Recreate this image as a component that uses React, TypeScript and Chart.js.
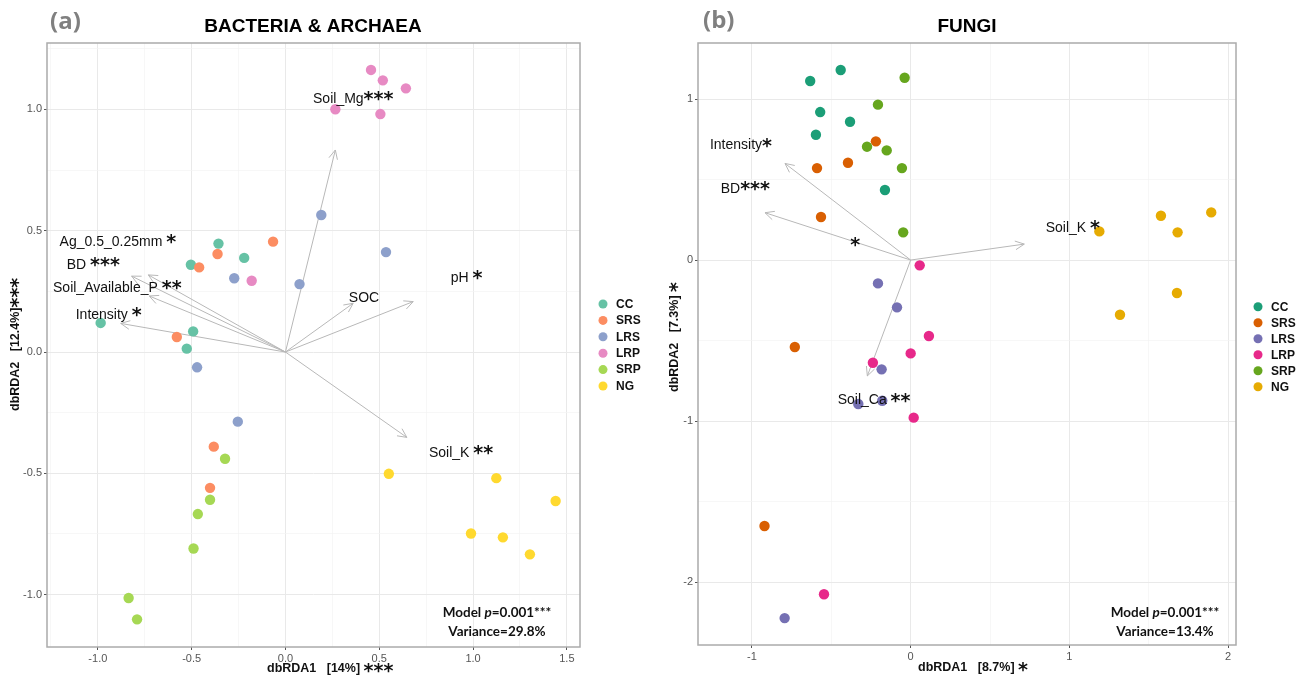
import React, { useEffect, useRef } from 'react';
import { Chart, registerables } from 'chart.js';
Chart.register(...registerables);

// ---------- shared ----------
const GROUPS = ['CC', 'SRS', 'LRS', 'LRP', 'SRP', 'NG'];
const BAC_COLORS = ['#66C2A5', '#FC8D62', '#8DA0CB', '#E78AC3', '#A6D854', '#FFD92F'];
const FUN_COLORS = ['#1B9E77', '#D95F02', '#7570B3', '#E7298A', '#66A61E', '#E6AB02'];

// ---------- (a) Bacteria & Archaea ----------
const BAC_CC_X = [-0.357, -0.220, -0.504, -0.985, -0.492, -0.526];
const BAC_CC_Y = [0.447, 0.388, 0.360, 0.120, 0.085, 0.014];
const BAC_SRS_X = [-0.066, -0.362, -0.460, -0.579, -0.382, -0.402];
const BAC_SRS_Y = [0.455, 0.404, 0.349, 0.062, -0.390, -0.560];
const BAC_LRS_X = [0.191, 0.536, -0.273, 0.075, -0.471, -0.254];
const BAC_LRS_Y = [0.565, 0.412, 0.304, 0.280, -0.063, -0.287];
const BAC_LRP_X = [0.456, 0.519, 0.642, 0.266, 0.506, -0.180];
const BAC_LRP_Y = [1.163, 1.120, 1.087, 1.001, 0.981, 0.294];
const BAC_SRP_X = [-0.322, -0.402, -0.467, -0.490, -0.836, -0.791];
const BAC_SRP_Y = [-0.440, -0.609, -0.668, -0.810, -1.014, -1.102];
const BAC_NG_X = [0.551, 1.124, 1.440, 0.989, 1.159, 1.303];
const BAC_NG_Y = [-0.502, -0.520, -0.614, -0.748, -0.764, -0.834];

const BAC_VEC_X = [0.266, -0.731, -0.820, -0.726, -0.878, 0.361, 0.681, 0.647];
const BAC_VEC_Y = [0.833, 0.318, 0.313, 0.231, 0.118, 0.201, 0.208, -0.352];
const BAC_LABELS = ['Soil_Mg', 'Ag_0.5_0.25mm ', 'BD ', 'Soil_Available_P ', 'Intensity ', 'SOC', 'pH ', 'Soil_K '];
const BAC_STARS = ['***', '*', '***', '**', '*', '', '*', '**'];
const BAC_LABEL_X = [0.147, -1.204, -1.166, -1.239, -1.118, 0.338, 0.881, 0.765];
const BAC_LABEL_Y = [1.043, 0.454, 0.359, 0.264, 0.153, 0.223, 0.306, -0.416];

const BAC_X_MAJOR = [-1.0, -0.5, 0.0, 0.5, 1.0, 1.5];
const BAC_X_MINOR = [-1.25, -0.75, -0.25, 0.25, 0.75, 1.25];
const BAC_Y_MAJOR = [-1.0, -0.5, 0.0, 0.5, 1.0];
const BAC_Y_MINOR = [-0.75, -0.25, 0.25, 0.75, 1.25];

// ---------- (b) Fungi ----------
const FUN_CC_X = [-0.633, -0.441, -0.570, -0.382, -0.597, -0.162];
const FUN_CC_Y = [1.112, 1.180, 0.919, 0.859, 0.778, 0.435];
const FUN_SRS_X = [-0.219, -0.590, -0.395, -0.565, -0.730, -0.921];
const FUN_SRS_Y = [0.737, 0.571, 0.604, 0.267, -0.540, -1.652];
const FUN_LRS_X = [-0.206, -0.086, -0.183, -0.330, -0.179, -0.794];
const FUN_LRS_Y = [-0.145, -0.294, -0.679, -0.894, -0.874, -2.224];
const FUN_LRP_X = [0.057, 0.115, 0.000, -0.238, 0.019, -0.546];
const FUN_LRP_Y = [-0.033, -0.472, -0.580, -0.638, -0.979, -2.076];
const FUN_SRP_X = [-0.038, -0.206, -0.275, -0.151, -0.055, -0.047];
const FUN_SRP_Y = [1.132, 0.965, 0.704, 0.681, 0.571, 0.172];
const FUN_NG_X = [1.189, 1.577, 1.894, 1.682, 1.678, 1.319];
const FUN_NG_Y = [0.178, 0.275, 0.296, 0.172, -0.205, -0.340];

const FUN_VEC_X = [-0.792, -0.918, 0.716, -0.273];
const FUN_VEC_Y = [0.600, 0.294, 0.099, -0.720];
const FUN_LABELS = ['Intensity', 'BD', '', 'Soil_K ', 'Soil_Ca '];
const FUN_STARS = ['*', '***', '*', '*', '**'];
const FUN_LABEL_X = [-1.265, -1.197, -0.380, 0.851, -0.460];
const FUN_LABEL_Y = [0.714, 0.441, 0.093, 0.199, -0.870];

const FUN_X_MAJOR = [-1, 0, 1, 2];
const FUN_X_MINOR = [-0.5, 0.5, 1.5];
const FUN_Y_MAJOR = [-2, -1, 0, 1];
const FUN_Y_MINOR = [-1.5, -0.5, 0.5];

const FONT = '"Liberation Sans", Arial, sans-serif';
const STAR_FONT = 'bold 19px "DejaVu Sans", sans-serif';

type Part = { t: string; f: string; dy?: number };

function drawParts(ctx: CanvasRenderingContext2D, x: number, y: number, parts: Part[], align: 'left' | 'center' = 'left') {
  let total = 0;
  for (const p of parts) { ctx.font = p.f; total += ctx.measureText(p.t).width; }
  let cx = align === 'center' ? x - total / 2 : x;
  ctx.textAlign = 'left';
  for (const p of parts) {
    ctx.font = p.f;
    ctx.fillText(p.t, cx, y + (p.dy || 0));
    cx += ctx.measureText(p.t).width;
  }
}

function isMajor(v: number, majors: number[]) {
  return majors.some((m) => Math.abs(m - v) < 1e-9);
}

const PANEL_A = {
  colors: BAC_COLORS,
  xs: [BAC_CC_X, BAC_SRS_X, BAC_LRS_X, BAC_LRP_X, BAC_SRP_X, BAC_NG_X],
  ys: [BAC_CC_Y, BAC_SRS_Y, BAC_LRS_Y, BAC_LRP_Y, BAC_SRP_Y, BAC_NG_Y],
  xMin: -1.271, xMax: 1.570, yMin: -1.216, yMax: 1.274,
  xMajor: BAC_X_MAJOR, xMinor: BAC_X_MINOR, yMajor: BAC_Y_MAJOR, yMinor: BAC_Y_MINOR,
  fmt: (v: number) => v.toFixed(1),
  width: 650, padRight: 70, xAxisH: 29, yAxisW: 47,
  vecX: BAC_VEC_X, vecY: BAC_VEC_Y,
  labText: BAC_LABELS, labStars: BAC_STARS, labX: BAC_LABEL_X, labY: BAC_LABEL_Y,
  title: 'BACTERIA & ARCHAEA', titleX: 313, tag: '(a)', tagX: 50, tagY: 22,
  legDotX: 603, legTextX: 616, legY0: 304, legStep: 16.4,
  modelX: 497, variance: 'Variance=29.8%',
  xTitle: 'dbRDA1   [14%] ', xTitleStars: '***', xTitleX: 267, xTitleY: 669,
  yTitle: 'dbRDA2   [12.4%]', yTitleStars: '***', yTitleX: 16, yTitleY: 411,
};

const PANEL_B = {
  colors: FUN_COLORS,
  xs: [FUN_CC_X, FUN_SRS_X, FUN_LRS_X, FUN_LRP_X, FUN_SRP_X, FUN_NG_X],
  ys: [FUN_CC_Y, FUN_SRS_Y, FUN_LRS_Y, FUN_LRP_Y, FUN_SRP_Y, FUN_NG_Y],
  xMin: -1.340, xMax: 2.050, yMin: -2.391, yMax: 1.348,
  xMajor: FUN_X_MAJOR, xMinor: FUN_X_MINOR, yMajor: FUN_Y_MAJOR, yMinor: FUN_Y_MINOR,
  fmt: (v: number) => String(v),
  width: 655, padRight: 69, xAxisH: 31, yAxisW: 48,
  vecX: FUN_VEC_X, vecY: FUN_VEC_Y,
  labText: FUN_LABELS, labStars: FUN_STARS, labX: FUN_LABEL_X, labY: FUN_LABEL_Y,
  title: 'FUNGI', titleX: 317, tag: '(b)', tagX: 53, tagY: 21,
  legDotX: 608, legTextX: 621, legY0: 306.7, legStep: 16,
  modelX: 515, variance: 'Variance=13.4%',
  xTitle: 'dbRDA1   [8.7%] ', xTitleStars: '*', xTitleX: 268, xTitleY: 668,
  yTitle: 'dbRDA2   [7.3%] ', yTitleStars: '*', yTitleX: 25, yTitleY: 392,
};

function makeOverlay(p: any) {
  return {
    id: 'overlay',
    beforeDatasetsDraw(chart: any) {
      const ctx = chart.ctx as CanvasRenderingContext2D;
      const xs = chart.scales.x, ys = chart.scales.y;
      const ox = xs.getPixelForValue(0), oy = ys.getPixelForValue(0);
      ctx.save();
      ctx.strokeStyle = '#b8b8b8';
      ctx.lineWidth = 1;
      for (let i = 0; i < p.vecX.length; i++) {
        const tx = xs.getPixelForValue(p.vecX[i]);
        const ty = ys.getPixelForValue(p.vecY[i]);
        ctx.beginPath();
        ctx.moveTo(ox, oy);
        ctx.lineTo(tx, ty);
        const ang = Math.atan2(ty - oy, tx - ox);
        const L = 10, a = Math.PI / 7;
        ctx.moveTo(tx - L * Math.cos(ang - a), ty - L * Math.sin(ang - a));
        ctx.lineTo(tx, ty);
        ctx.lineTo(tx - L * Math.cos(ang + a), ty - L * Math.sin(ang + a));
        ctx.stroke();
      }
      ctx.restore();
    },
    afterDatasetsDraw(chart: any) {
      const ctx = chart.ctx as CanvasRenderingContext2D;
      const ca = chart.chartArea;
      const xs = chart.scales.x, ys = chart.scales.y;
      ctx.save();
      ctx.strokeStyle = '#ababab';
      ctx.lineWidth = 1.5;
      ctx.strokeRect(ca.left, ca.top, ca.right - ca.left, ca.bottom - ca.top);
      ctx.fillStyle = '#111';
      ctx.textBaseline = 'middle';
      for (let i = 0; i < p.labText.length; i++) {
        const x = xs.getPixelForValue(p.labX[i]);
        const y = ys.getPixelForValue(p.labY[i]);
        const parts: Part[] = [{ t: p.labText[i], f: `14px ${FONT}` }];
        if (p.labStars[i]) parts.push({ t: p.labStars[i], f: STAR_FONT, dy: 1.5 });
        drawParts(ctx, x, y, parts);
      }
      ctx.restore();
    },
    afterDraw(chart: any) {
      const ctx = chart.ctx as CanvasRenderingContext2D;
      ctx.save();
      ctx.textBaseline = 'middle';
      ctx.fillStyle = '#000';
      ctx.font = `bold 19px ${FONT}`;
      ctx.textAlign = 'center';
      ctx.fillText(p.title, p.titleX, 27);
      ctx.fillStyle = '#808080';
      ctx.font = 'bold 24px "Open Sans", sans-serif';
      ctx.textAlign = 'left';
      ctx.fillText(p.tag, p.tagX, p.tagY);
      for (let i = 0; i < GROUPS.length; i++) {
        const y = p.legY0 + i * p.legStep;
        ctx.fillStyle = p.colors[i];
        ctx.beginPath();
        ctx.arc(p.legDotX, y, 4.5, 0, Math.PI * 2);
        ctx.fill();
        ctx.fillStyle = '#111';
        ctx.font = `bold 12px ${FONT}`;
        ctx.textAlign = 'left';
        ctx.fillText(GROUPS[i], p.legTextX, y + 0.5);
      }
      ctx.fillStyle = '#111';
      drawParts(ctx, p.modelX, 613, [
        { t: 'Model ', f: 'bold 13.5px Lato, sans-serif' },
        { t: 'p', f: 'italic bold 13.5px Lato, sans-serif' },
        { t: '=0.001***', f: 'bold 13.5px Lato, sans-serif' },
      ], 'center');
      drawParts(ctx, p.modelX, 632, [{ t: p.variance, f: 'bold 13.5px Lato, sans-serif' }], 'center');
      drawParts(ctx, p.xTitleX, p.xTitleY, [
        { t: p.xTitle, f: `bold 12.5px ${FONT}` },
        { t: p.xTitleStars, f: STAR_FONT, dy: 3 },
      ]);
      ctx.translate(p.yTitleX, p.yTitleY);
      ctx.rotate(-Math.PI / 2);
      drawParts(ctx, 0, 0, [
        { t: p.yTitle, f: `bold 12.5px ${FONT}` },
        { t: p.yTitleStars, f: STAR_FONT, dy: 3 },
      ]);
      ctx.restore();
    },
  };
}

function buildConfig(p: any): any {
  const datasets = GROUPS.map((g, i) => ({
    label: g,
    data: p.xs[i].map((x: number, j: number) => ({ x, y: p.ys[i][j] })),
    backgroundColor: p.colors[i],
    borderWidth: 0,
    pointRadius: 5.2,
    pointHoverRadius: 5.2,
    order: GROUPS.length - i,
  }));
  const xTicks = [...p.xMajor, ...p.xMinor].sort((a, b) => a - b);
  const yTicks = [...p.yMajor, ...p.yMinor].sort((a, b) => a - b);
  const gridFor = (majors: number[]) => ({
    color: (c: any) => (c.tick && isMajor(c.tick.value, majors) ? '#e9e9e9' : '#f3f3f3'),
    lineWidth: (c: any) => (c.tick && isMajor(c.tick.value, majors) ? 1 : 0.7),
    tickColor: (c: any) => (c.tick && isMajor(c.tick.value, majors) ? '#555' : 'rgba(0,0,0,0)'),
    tickLength: 3,
    drawTicks: true,
  });
  const tickFont = { family: FONT, size: 11 };
  return {
    type: 'scatter',
    data: { datasets },
    options: {
      animation: false,
      responsive: false,
      maintainAspectRatio: false,
      events: [],
      layout: { padding: { top: 43, right: p.padRight, left: 0, bottom: 0 } },
      plugins: { legend: { display: false }, tooltip: { enabled: false }, title: { display: false } },
      scales: {
        x: {
          type: 'linear', min: p.xMin, max: p.xMax,
          afterBuildTicks: (s: any) => { s.ticks = xTicks.map((v) => ({ value: v })); },
          afterFit: (s: any) => { s.height = p.xAxisH; },
          ticks: {
            autoSkip: false, maxRotation: 0, padding: 2, color: '#555', font: tickFont,
            callback: (v: number) => (isMajor(v, p.xMajor) ? p.fmt(v) : ''),
          },
          grid: gridFor(p.xMajor),
          border: { display: false },
        },
        y: {
          type: 'linear', min: p.yMin, max: p.yMax,
          afterBuildTicks: (s: any) => { s.ticks = yTicks.map((v) => ({ value: v })); },
          afterFit: (s: any) => { s.width = p.yAxisW; },
          ticks: {
            autoSkip: false, padding: 2, color: '#555', font: tickFont,
            callback: (v: number) => (isMajor(v, p.yMajor) ? p.fmt(v) : ''),
          },
          grid: gridFor(p.yMajor),
          border: { display: false },
        },
      },
    },
    plugins: [makeOverlay(p)],
  };
}

function PanelChart({ panel, left }: { panel: any; left: number }) {
  const ref = useRef<HTMLCanvasElement>(null);
  useEffect(() => {
    if (!ref.current) return;
    const chart = new Chart(ref.current, buildConfig(panel));
    return () => chart.destroy();
  }, [panel]);
  return (
    <canvas
      ref={ref}
      width={panel.width}
      height={676}
      style={{ position: 'absolute', left, top: 0, width: panel.width, height: 676 }}
    />
  );
}

export default function App() {
  return (
    <div style={{ position: 'absolute', left: 0, top: 0, width: 1305, height: 676, background: '#fff', overflow: 'hidden' }}>
      <PanelChart panel={PANEL_A} left={0} />
      <PanelChart panel={PANEL_B} left={650} />
    </div>
  );
}
